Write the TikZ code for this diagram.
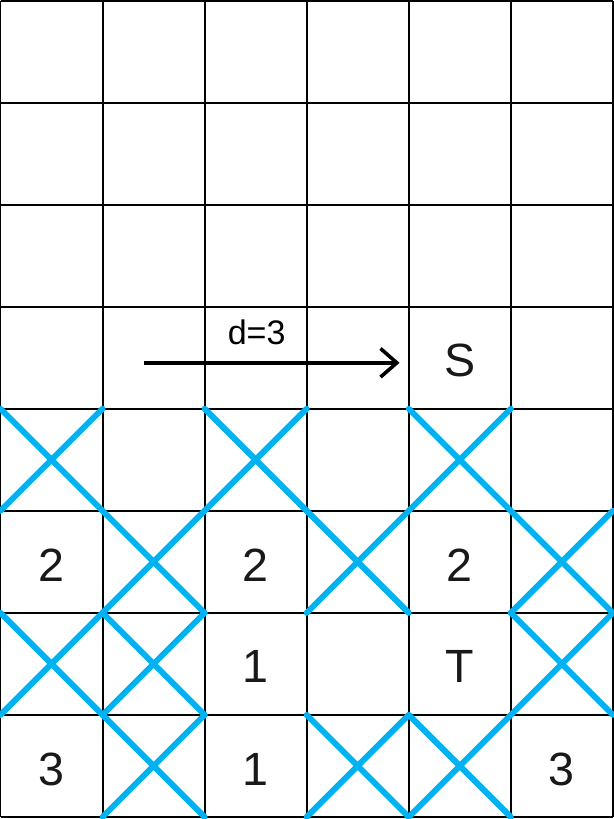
\documentclass[tikz,border=0pt]{standalone}
\usepackage{fontspec}
\setmainfont{Liberation Sans}
\usepackage{tikz}
\usetikzlibrary{arrows.meta}
\definecolor{GridInk}{HTML}{000000}
\definecolor{CrossBlue}{HTML}{00B2F2}

\begin{document}
\begin{tikzpicture}[
  x=2cm, y=2cm,
  gridline/.style={draw=GridInk, line width=1.1pt},
  cross/.style={draw=CrossBlue, line width=3.3pt, line cap=round},
  cellnum/.style={text=black!90, font=\fontsize{26}{30}\selectfont, inner sep=0pt},
  jump/.style={-{Straight Barb[length=0.32cm, width=0.56cm, line width=2pt]}, draw=black, line width=2pt}
]
\useasboundingbox (-0.005,0.005) rectangle (6.005,-8.02);
\draw[gridline, step=1] (0,0) grid (6,-8);
% blocked cells
\foreach \c/\r in {0/4,2/4,4/4,1/5,3/5,5/5,0/6,1/6,5/6,1/7,3/7,4/7}{
  \draw[cross] (\c,-\r) -- ++(1,-1) (\c+1,-\r) -- ++(-1,-1);
}
% cell labels
\foreach \c/\r/\txt/\nm in {
  4/3/S/start,
  0/5/2/twoa, 2/5/2/twob, 4/5/2/twoc,
  2/6/1/onea, 4/6/T/target,
  0/7/3/threea, 2/7/1/oneb, 5/7/3/threeb
}{
  \node[cellnum] (\nm) at (\c+0.5,-\r-0.53) {\txt};
}
\coordinate (jumpfrom) at (1.41,-3.55);
\coordinate (jumpto) at (3.91,-3.55);
\draw[jump] (jumpfrom) -- (jumpto) node[midway, above=0.2cm, font=\fontsize{19}{22}\selectfont, xshift=-0.3cm] (dist) {d=3};
\end{tikzpicture}
\end{document}
